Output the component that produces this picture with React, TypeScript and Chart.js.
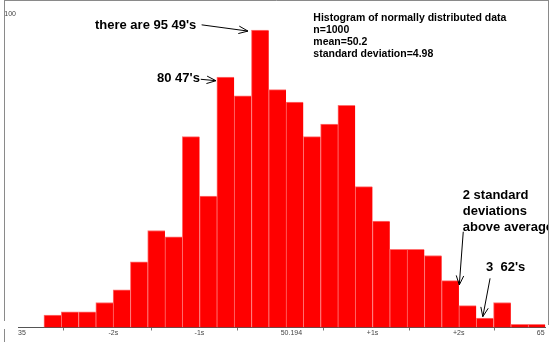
import React, { useEffect, useRef } from "react";
import { Chart, registerables } from "chart.js";

Chart.register(...registerables);

// Histogram bins (integer values) and their counts
const bins = [37, 38, 39, 40, 41, 42, 43, 44, 45, 46, 47, 48, 49, 50, 51, 52, 53, 54, 55, 56, 57, 58, 59, 60, 61, 62, 63, 64, 65];
const counts = [4, 5, 5, 8, 12, 21, 31, 29, 61, 42, 80, 74, 95, 76, 72, 61, 65, 71, 45, 34, 25, 25, 23, 15, 7, 3, 8, 1, 1];

// x-axis ticks: min, mean -/+ 1 and 2 standard deviations, max
const mean = 50.194;
const sd = 4.98;
const tickValues = [35, mean - 2 * sd, mean - sd, mean, mean + sd, mean + 2 * sd, 65];
const tickLabels = ["35", "-2s", "-1s", "50.194", "+1s", "+2s", "65"];

const titleLines = ["Histogram of normally distributed data", "n=1000", "mean=50.2", "standard deviation=4.98"];

// annotations: text anchored in data coordinates (x, y = baseline of first line)
const notes = [
  { lines: ["there are 95 49's"], x: 39.45, y: 95.4, size: 13, lh: 16 },
  { lines: ["80 47's"], x: 43.04, y: 78.5, size: 13, lh: 16 },
  { lines: ["2 standard", "deviations", "above average"], x: 60.72, y: 41.0, size: 13, lh: 16 },
  { lines: ["3  62's"], x: 62.07, y: 18.1, size: 13, lh: 16 },
];

// arrows: [fromX, fromY, toX, toY] in data coordinates
const arrows = [
  [45.62, 96.7, 48.3, 94.7],
  [45.57, 79.3, 46.45, 78.85],
  [60.75, 30.6, 60.52, 13.6],
  [62.3, 15.7, 61.88, 3.45],
];

const annotationPlugin = {
  id: "annotations",
  afterDraw(chart: any) {
    const ctx = chart.ctx as CanvasRenderingContext2D;
    const xs = chart.scales.x;
    const ys = chart.scales.y;
    const W = chart.width;
    const H = chart.height;
    ctx.save();

    // frame
    ctx.strokeStyle = "#8a8a8a";
    ctx.lineWidth = 1;
    ctx.beginPath();
    ctx.moveTo(4.5, 0);
    ctx.lineTo(4.5, 321);
    ctx.moveTo(4.5, 329);
    ctx.lineTo(4.5, H);
    ctx.moveTo(4, 0.5);
    ctx.lineTo(W - 2.5, 0.5);
    ctx.moveTo(W - 2.5, 0);
    ctx.lineTo(W - 2.5, 325);
    ctx.stroke();

    // clip to the frame
    ctx.beginPath();
    ctx.rect(5, 1, W - 8, H - 1);
    ctx.clip();

    // title block
    ctx.fillStyle = "#000";
    ctx.textAlign = "left";
    ctx.textBaseline = "alphabetic";
    ctx.font = "bold 10.5px 'Liberation Sans', Arial, sans-serif";
    const tx = xs.getPixelForValue(52.08);
    const ty = ys.getPixelForValue(98.0);
    titleLines.forEach((t, i) => ctx.fillText(t, tx, ty + i * 12));

    // notes
    notes.forEach((n) => {
      ctx.font = `bold ${n.size}px 'Liberation Sans', Arial, sans-serif`;
      const px = xs.getPixelForValue(n.x);
      const py = ys.getPixelForValue(n.y);
      n.lines.forEach((t, i) => ctx.fillText(t, px, py + i * n.lh));
    });

    // arrows
    ctx.strokeStyle = "#000";
    ctx.lineWidth = 1;
    arrows.forEach(([fx, fy, tx2, ty2]) => {
      const x1 = xs.getPixelForValue(fx);
      const y1 = ys.getPixelForValue(fy);
      const x2 = xs.getPixelForValue(tx2);
      const y2 = ys.getPixelForValue(ty2);
      const ang = Math.atan2(y2 - y1, x2 - x1);
      const len = 10;
      const spread = (22 * Math.PI) / 180;
      ctx.beginPath();
      ctx.moveTo(x1, y1);
      ctx.lineTo(x2, y2);
      ctx.moveTo(x2 - len * Math.cos(ang - spread), y2 - len * Math.sin(ang - spread));
      ctx.lineTo(x2, y2);
      ctx.lineTo(x2 - len * Math.cos(ang + spread), y2 - len * Math.sin(ang + spread));
      ctx.stroke();
    });

    ctx.restore();
  },
};

export default function App() {
  const ref = useRef<HTMLCanvasElement>(null);

  useEffect(() => {
    document.body.style.margin = "0";
    if (!ref.current) return;
    const chart = new Chart(ref.current, {
      type: "bar",
      data: {
        datasets: [
          {
            data: bins.map((b, i) => ({ x: b, y: counts[i] })),
            backgroundColor: "#ff0000",
            borderColor: "#ff7070",
            borderWidth: { top: 1, left: 1, right: 0, bottom: 0 },
            borderSkipped: "start",
            barPercentage: 1,
            categoryPercentage: 1,
          },
        ],
      },
      options: {
        animation: false,
        responsive: false,
        devicePixelRatio: 1,
        layout: { padding: { left: 4, right: 5.6, top: 14.5, bottom: 0 } },
        plugins: { legend: { display: false }, tooltip: { enabled: false }, title: { display: false } },
        scales: {
          x: {
            type: "linear",
            min: 35,
            max: 65.5,
            offset: false,
            afterBuildTicks: (scale: any) => {
              scale.ticks = tickValues.map((v) => ({ value: v }));
            },
            afterFit: (scale: any) => {
              scale.height = 14.5;
            },
            ticks: {
              autoSkip: false,
              maxRotation: 0,
              minRotation: 0,
              align: "start",
              padding: -2,
              color: "#444",
              font: { size: 7, family: "'Liberation Sans', Arial, sans-serif" },
              callback: (_v: any, i: number) => tickLabels[i],
            },
            grid: { drawOnChartArea: false, drawTicks: true, tickLength: 3, color: "#777" },
            border: { display: true, color: "#555", width: 1 },
          },
          y: {
            type: "linear",
            min: 0,
            max: 100,
            afterBuildTicks: (scale: any) => {
              scale.ticks = [{ value: 100 }];
            },
            afterFit: (scale: any) => {
              scale.width = 14;
            },
            ticks: {
              padding: 2,
              color: "#444",
              font: { size: 7, family: "'Liberation Sans', Arial, sans-serif" },
              callback: () => "100",
            },
            grid: { display: false, drawTicks: false },
            border: { display: false },
          },
        },
      },
      plugins: [annotationPlugin],
    });
    return () => chart.destroy();
  }, []);

  return (
    <div style={{ width: 551, height: 342, position: "relative" }}>
      <canvas ref={ref} width={551} height={342} style={{ display: "block" }} />
    </div>
  );
}
